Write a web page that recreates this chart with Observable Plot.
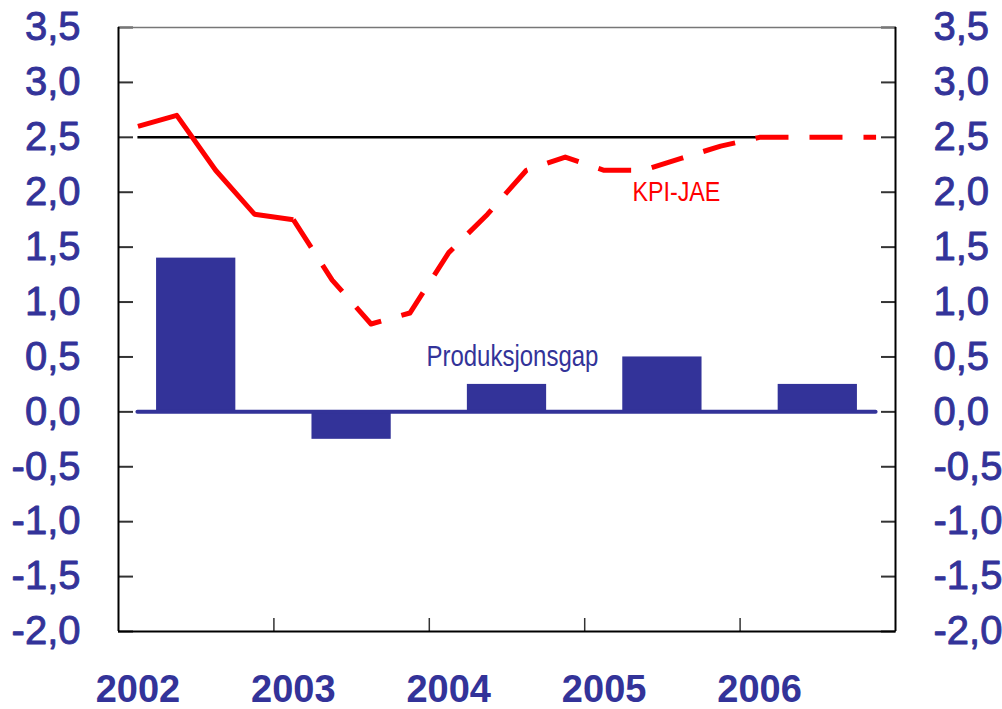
<!DOCTYPE html>
<html>
<head>
<meta charset="utf-8">
<script src="https://cdn.jsdelivr.net/npm/d3@7"></script>
<script src="https://cdn.jsdelivr.net/npm/@observablehq/plot@0.6"></script>
<style>
  html, body { margin: 0; padding: 0; background: #fff; }
  #chart { width: 1002px; height: 709px; }
</style>
</head>
<body>
<div id="chart"></div>
<script>
// ---- data ----
const years = [2002, 2003, 2004, 2005, 2006];
const gap = [1.4, -0.25, 0.25, 0.5, 0.25];            // Produksjonsgap (annual bars)
const kpiQuarterYear = [2002,2002,2002,2002,2003,2003,2003,2003,2004,2004,2004,2004,2005,2005,2005,2005,2006,2006,2006,2006];
const kpiQuarter =     [1,2,3,4,1,2,3,4,1,2,3,4,1,2,3,4,1,2,3,4];
const kpi = [2.6, 2.7, 2.2, 1.8, 1.75, 1.2, 0.8, 0.9, 1.45, 1.8, 2.2, 2.32, 2.2, 2.2, 2.31, 2.42, 2.5, 2.5, 2.5, 2.5]; // KPI-JAE
const target = 2.5;
const yTicks = [-2, -1.5, -1, -0.5, 0, 0.5, 1, 1.5, 2, 2.5, 3, 3.5];
const xTicks = [2003, 2004, 2005, 2006];
const yearLabels = ["2002", "2003", "2004", "2005", "2006"];
const seriesLabels = ["KPI-JAE", "Produksjonsgap"];

const blue = "#333399";
const red = "#ff0000";
const fmt = d3.formatLocale({decimal: ",", thousands: " ", grouping: [3], currency: ["", ""], minus: "-"}).format(".1f");

const bars = years.map((y, i) => ({year: y, value: gap[i]}));
const kpiRows = kpi.map((v, i) => ({t: kpiQuarterYear[i] + (kpiQuarter[i] - 0.5) / 4, value: v}));
const solid = kpiRows.slice(0, 5);
const dashed = kpiRows.slice(4);
const first = kpiRows[0].t;
const last = kpiRows[kpiRows.length - 1].t;
const reachTarget = kpiRows.find(d => d.t > 2005 && d.value >= target).t;

const font = "'Liberation Sans', Arial, sans-serif";

const chart = Plot.plot({
  width: 1002,
  height: 709,
  marginLeft: 118,
  marginRight: 107,
  marginTop: 27,
  marginBottom: 78,
  style: {fontFamily: font, background: "#fff"},
  x: {domain: [2002, 2007], axis: null},
  y: {domain: [-2, 3.5], axis: null},
  marks: [
    Plot.rectY(bars, {x1: d => d.year + 0.245, x2: d => d.year + 0.755, y1: 0, y2: "value", fill: blue}),
    Plot.ruleY([0], {x1: first, x2: last, stroke: blue, strokeWidth: 4, strokeLinecap: "round"}),
    Plot.ruleY([target], {x1: first, x2: reachTarget, stroke: "#000", strokeWidth: 2.5}),
    Plot.line(solid, {x: "t", y: "value", stroke: red, strokeWidth: 5, strokeLinecap: "butt"}),
    Plot.line(dashed, {x: "t", y: "value", stroke: red, strokeWidth: 5, strokeDasharray: "33,21", strokeLinecap: "butt"}),
    Plot.text([seriesLabels[0]], {x: [2005.59], y: [2.0], text: d => d, fill: red, fontSize: 28, textAnchor: "middle", lineAnchor: "middle", className: "lbl-kpi"}),
    Plot.text([seriesLabels[1]], {x: [2004.535], y: [0.5], text: d => d, fill: blue, fontSize: 29, textAnchor: "middle", lineAnchor: "middle", className: "lbl-gap"}),
    // tick marks (inward)
    Plot.axisY({ticks: yTicks, anchor: "left", tickSize: -15, tickFormat: () => "", label: null, stroke: "#333", strokeWidth: 2}),
    Plot.axisY({ticks: yTicks, anchor: "right", tickSize: -15, tickFormat: () => "", label: null, stroke: "#333", strokeWidth: 2}),
    Plot.axisX({ticks: xTicks, anchor: "bottom", tickSize: -13, tickFormat: () => "", label: null, stroke: "#333", strokeWidth: 1.5}),
    // tick labels
    Plot.text(yTicks, {y: d => d, text: d => fmt(d), frameAnchor: "left", dx: -38, textAnchor: "end", lineAnchor: "middle", fontSize: 40, fill: blue, stroke: blue, strokeWidth: 0.9}),
    Plot.text(yTicks, {y: d => d, text: d => fmt(d), frameAnchor: "right", dx: 38, textAnchor: "start", lineAnchor: "middle", fontSize: 40, fill: blue, stroke: blue, strokeWidth: 0.9}),
    Plot.text(years, {x: d => d + 0.125, text: (d, i) => yearLabels[i], frameAnchor: "bottom", dy: 58, textAnchor: "middle", lineAnchor: "middle", fontSize: 38, fontWeight: "bold", fill: blue}),
    // frame
    Plot.ruleY([3.5], {stroke: "#777", strokeWidth: 1.5}),
    Plot.ruleY([-2], {stroke: "#000", strokeWidth: 2}),
    Plot.ruleX([2002], {stroke: "#000", strokeWidth: 2}),
    Plot.ruleX([2007], {stroke: "#000", strokeWidth: 2})
  ]
});
document.getElementById("chart").appendChild(chart);
// condensed look of the in-plot labels (reference uses a narrow face)
d3.select(chart).selectAll(".lbl-kpi text").attr("textLength", 88).attr("lengthAdjust", "spacingAndGlyphs");
d3.select(chart).selectAll(".lbl-gap text").attr("textLength", 172).attr("lengthAdjust", "spacingAndGlyphs");
</script>
</body>
</html>
